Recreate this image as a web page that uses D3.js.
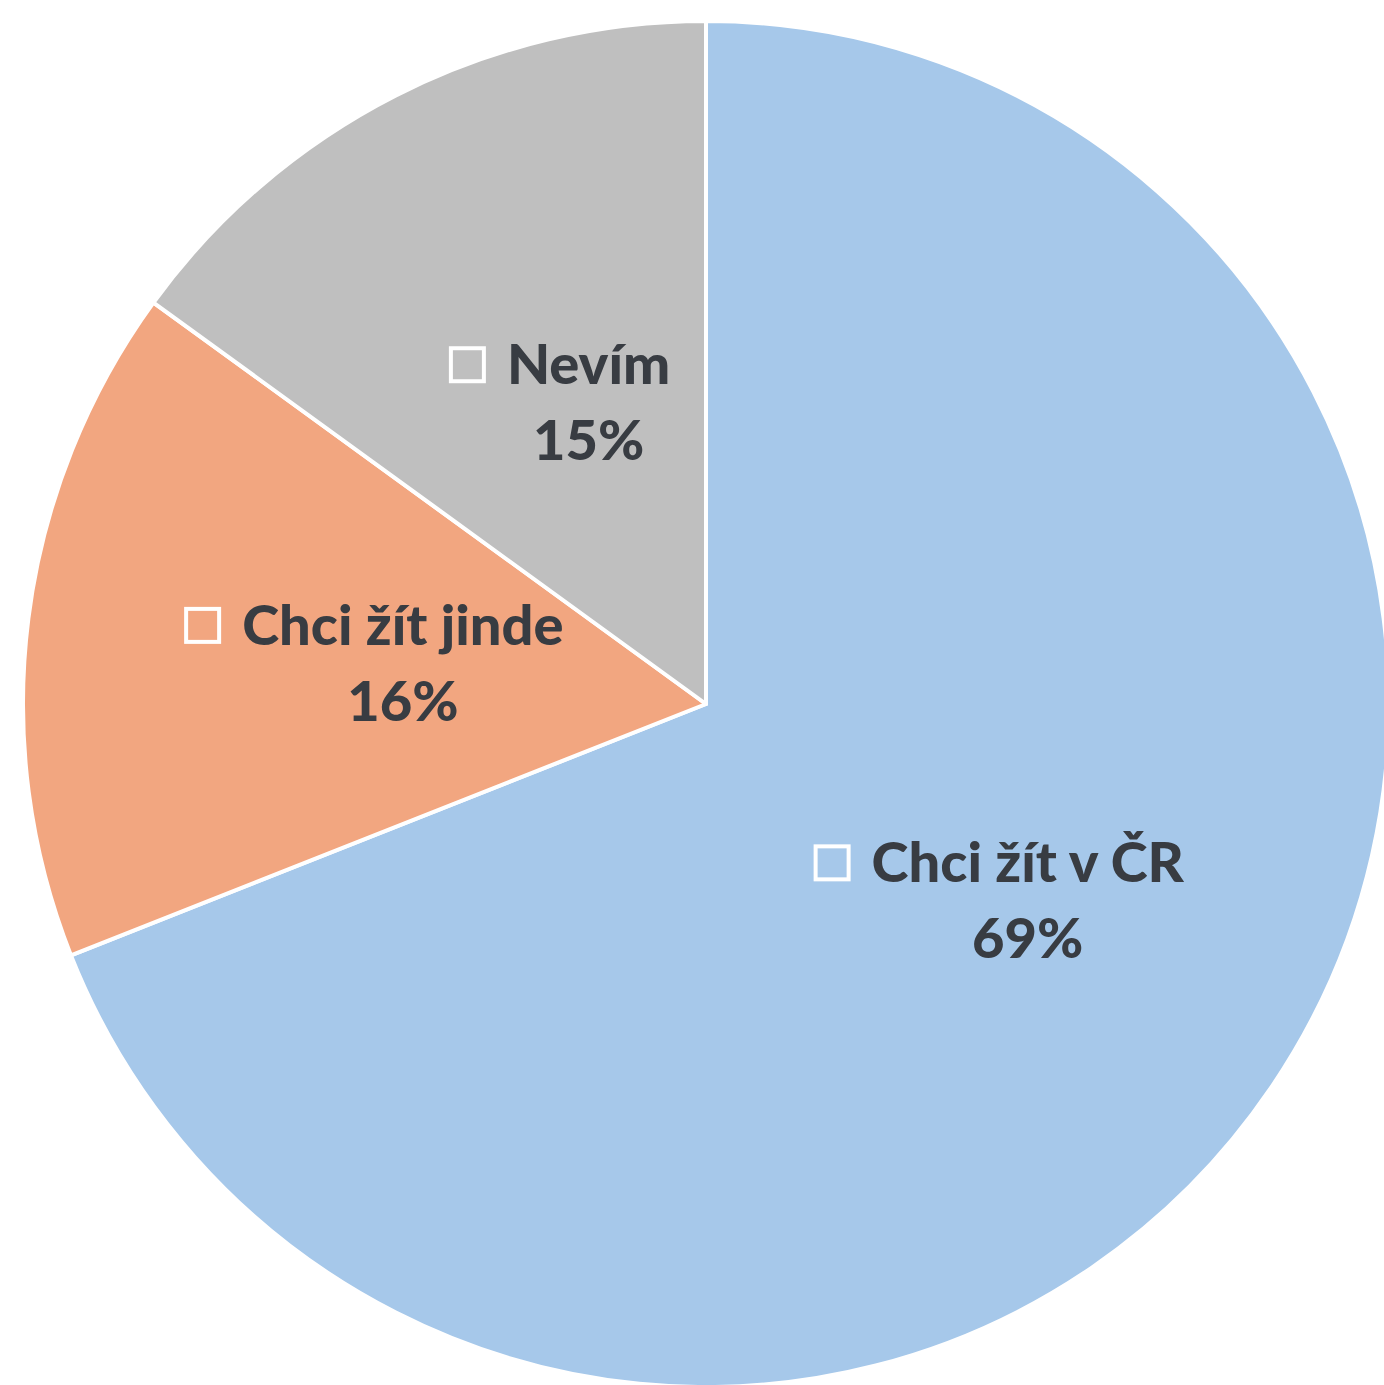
<!DOCTYPE html>
<html><head><meta charset="utf-8">
<script src="https://cdn.jsdelivr.net/npm/d3@7"></script>
<style>body{margin:0;background:#fff}svg{display:block}</style>
</head><body>
<script>
const categories = ["Chci žít v ČR", "Chci žít jinde", "Nevím"];
const values = [69, 16, 15];
const colors = ["#a6c8ea", "#f2a680", "#bfbfbf"];
const labelNudge = [[24, -6], [54, 4], [46, 19]];

const W = 1384, H = 1385, cx = 706, cy = 704, R = 683;
const svg = d3.select("body").append("svg").attr("width", W).attr("height", H);
const g = svg.append("g").attr("transform", `translate(${cx},${cy})`);
const data = categories.map((c, i) => ({name: c, value: values[i], color: colors[i], i}));
const pie = d3.pie().value(d => d.value).sort(null);
const arc = d3.arc().innerRadius(0).outerRadius(R);
const labelArc = d3.arc().innerRadius(360).outerRadius(360);
const arcs = pie(data);
g.selectAll("path").data(arcs).join("path")
  .attr("d", arc).attr("fill", d => d.data.color)
  .attr("stroke", "#fff").attr("stroke-width", 4).attr("stroke-linejoin", "round");

const fs = 56;
arcs.forEach(a => {
  const [x0, y0] = labelArc.centroid(a);
  const x = x0 + labelNudge[a.data.i][0], y = y0 + labelNudge[a.data.i][1];
  const lg = g.append("g").attr("transform", `translate(${x},${y})`);
  const t = lg.append("text").attr("text-anchor", "middle").attr("y", -18)
    .attr("font-family", "Lato, 'Open Sans', sans-serif").attr("font-weight", "900")
    .attr("font-size", fs).attr("fill", "#383c42").text(a.data.name);
  const w = t.node().getComputedTextLength();
  lg.append("rect").attr("x", -w / 2 - 56).attr("y", -18 - 36).attr("width", 33).attr("height", 33)
    .attr("fill", a.data.color).attr("stroke", "#fff").attr("stroke-width", 4);
  lg.append("text").attr("text-anchor", "middle").attr("y", 58)
    .attr("font-family", "Lato, 'Open Sans', sans-serif").attr("font-weight", "900")
    .attr("font-size", fs).attr("fill", "#383c42").text(a.data.value + "%");
});
</script>
</body></html>
